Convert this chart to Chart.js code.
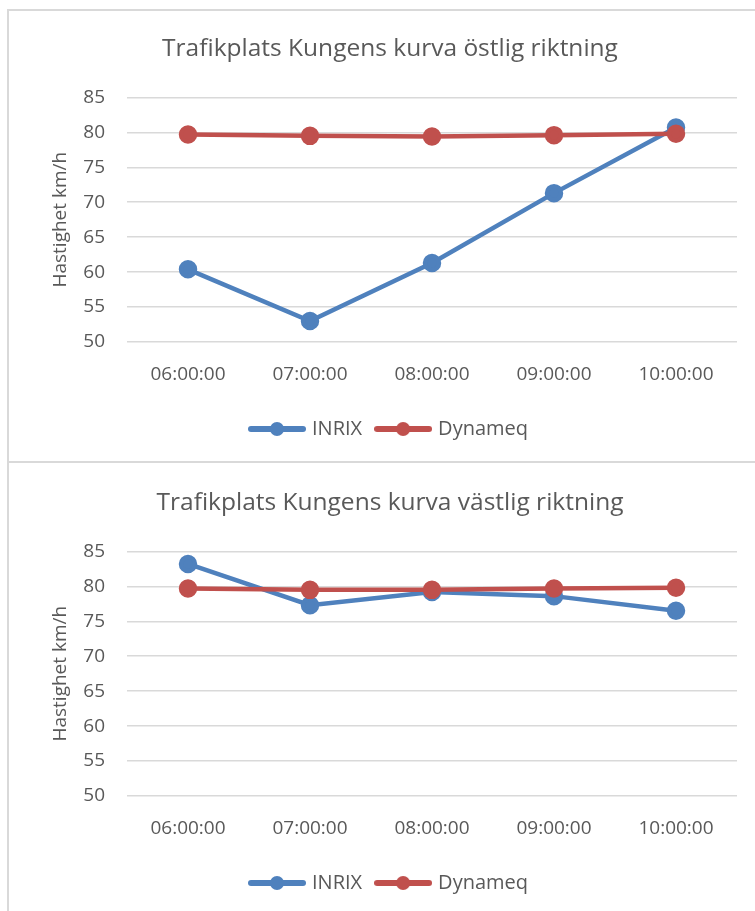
<!DOCTYPE html>
<html>
<head>
<meta charset="utf-8">
<script src="https://cdn.jsdelivr.net/npm/chart.js@4.4.1/dist/chart.umd.min.js"></script>
<style>
  html, body { margin: 0; padding: 0; background: #fff; overflow: hidden; width: 755px; height: 911px; }
  .box { position: absolute; left: 7px; width: 800px; border: 2px solid #d9d9d9; box-sizing: border-box; }
  canvas { position: absolute; left: 9px; }
</style>
</head>
<body>
<div class="box" style="top:9px;height:454px;"></div>
<div class="box" style="top:461px;height:500px;"></div>
<canvas id="chartEast" width="746" height="446" style="top:10px;"></canvas>
<canvas id="chartWest" width="746" height="446" style="top:464px;"></canvas>
<script>
const timeLabels = ['06:00:00', '07:00:00', '08:00:00', '09:00:00', '10:00:00'];
const eastInrix = [60.4, 53.0, 61.3, 71.3, 80.7];
const eastDynameq = [79.7, 79.5, 79.4, 79.6, 79.8];
const westInrix = [83.2, 77.3, 79.2, 78.6, 76.5];
const westDynameq = [79.7, 79.5, 79.5, 79.7, 79.8];
const yMin = 50, yMax = 85, yStep = 5;

const fontFam = "'Open Sans', sans-serif";
const grey = '#595959';
const blue = '#4f81bd';
const red = '#c0504d';

// legend marker: line with a dot in the middle
function legendMarker(color) {
  const c = document.createElement('canvas');
  c.width = 58; c.height = 16;
  const ctx = c.getContext('2d');
  ctx.strokeStyle = color;
  ctx.lineWidth = 6;
  ctx.lineCap = 'round';
  ctx.beginPath();
  ctx.moveTo(3, 8); ctx.lineTo(55, 8);
  ctx.stroke();
  ctx.fillStyle = color;
  ctx.beginPath();
  ctx.arc(29, 8, 7, 0, Math.PI * 2);
  ctx.fill();
  return c;
}
const markers = [legendMarker(blue), legendMarker(red)];

function makeChart(id, title, inrix, dynameq) {
  const ctx = document.getElementById(id).getContext('2d');
  return new Chart(ctx, {
    type: 'line',
    data: {
      labels: timeLabels,
      datasets: [
        { label: 'INRIX', data: inrix, borderColor: blue, backgroundColor: blue,
          borderWidth: 4.5, pointRadius: 7, pointHoverRadius: 7, order: 1 },
        { label: 'Dynameq', data: dynameq, borderColor: red, backgroundColor: red,
          borderWidth: 4.5, pointRadius: 7, pointHoverRadius: 7, order: 0 }
      ]
    },
    options: {
      responsive: false,
      animation: false,
      layout: { padding: { left: 34, right: 18, bottom: 7 } },
      plugins: {
        title: {
          display: true, text: title, color: grey,
          font: { family: fontFam, size: 24.5, weight: 'normal' },
          padding: { top: 24, bottom: 34 }
        },
        legend: {
          position: 'bottom',
          labels: {
            usePointStyle: true, pointStyleWidth: 50, boxHeight: 14,
            color: grey, font: { family: fontFam, size: 20 }, padding: 16,
            sort: (a, b) => a.datasetIndex - b.datasetIndex,
            generateLabels: function (chart) {
              const items = Chart.defaults.plugins.legend.labels.generateLabels(chart);
              items.forEach(it => { it.pointStyle = markers[it.datasetIndex]; });
              return items;
            }
          }
        },
        tooltip: { enabled: false }
      },
      scales: {
        x: {
          offset: true,
          grid: { display: false },
          border: { display: false },
          ticks: { color: grey, font: { family: fontFam, size: 19 }, padding: 13, maxRotation: 0 },
          afterFit: function (scale) { scale.height = 61; }
        },
        y: {
          min: yMin, max: yMax,
          ticks: { stepSize: yStep, color: grey, font: { family: fontFam, size: 19 }, padding: 22 },
          grid: { color: '#d9d9d9', lineWidth: 1.5, drawTicks: false },
          border: { display: false },
          title: { display: true, text: 'Hastighet km/h', color: grey, font: { family: fontFam, size: 19 }, padding: { top: 6 } },
          afterFit: function (scale) { scale.width = 84; }
        }
      }
    }
  });
}

makeChart('chartEast', 'Trafikplats Kungens kurva östlig riktning', eastInrix, eastDynameq);
makeChart('chartWest', 'Trafikplats Kungens kurva västlig riktning', westInrix, westDynameq);
</script>
</body>
</html>
